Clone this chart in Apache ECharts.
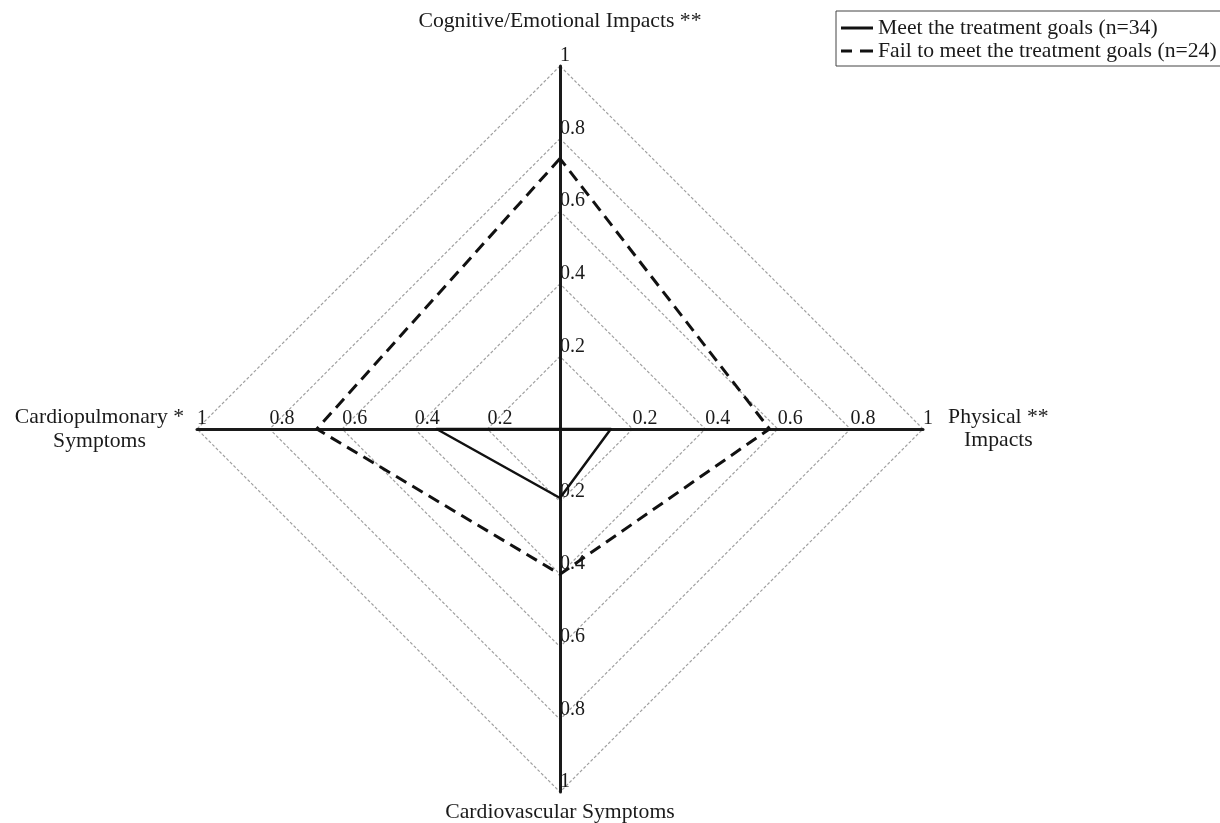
<!DOCTYPE html>
<html><head><meta charset="utf-8">
<script src="https://cdn.jsdelivr.net/npm/echarts@6/dist/echarts.min.js"></script>
<style>html,body{margin:0;padding:0;background:#fff}#c{width:1220px;height:823px}</style>
</head><body><div id="c"></div>
<script>
// Indicators in ECharts radar order (start at top, counter-clockwise)
const indicatorNames = ['Cognitive/Emotional Impacts **', 'Cardiopulmonary *\nSymptoms', 'Cardiovascular Symptoms', 'Physical **\nImpacts'];
const seriesNames = ['Meet the treatment goals (n=34)', 'Fail to meet the treatment goals (n=24)'];
const meetGoals = [0, 0.34, 0.19, 0.14];
const failGoals = [0.745, 0.67, 0.40, 0.577];
const axisMax = 1;

const FONT = 'Liberation Serif';
const nameKeys = ['top', 'left', 'bottom', 'right'];

const chart = echarts.init(document.getElementById('c'));
chart.setOption({
  backgroundColor: '#fff',
  animation: false,
  legend: {
    orient: 'vertical', left: 836, top: 11,
    padding: [6, 4, 4, 5], itemGap: 1,
    itemWidth: 32, itemHeight: 3,
    borderColor: '#444', borderWidth: 1,
    textStyle: { fontFamily: FONT, fontSize: 21.7, color: '#1a1a1a' },
    data: [
      { name: seriesNames[0], icon: 'path://M0,0h32v3h-32z', itemStyle: { color: '#111', borderWidth: 0 } },
      { name: seriesNames[1], icon: 'path://M0,0h11v3h-11z M19,0h13v3h-13z', itemStyle: { color: '#111', borderWidth: 0 } }
    ]
  },
  radar: {
    center: [560, 429], radius: 363, startAngle: 90,
    shape: 'polygon', splitNumber: 5,
    indicator: indicatorNames.map(n => ({ name: n, min: 0, max: axisMax })),
    nameGap: 8,
    axisName: {
      color: '#1a1a1a', fontFamily: FONT, fontSize: 21.7,
      formatter: function (name) {
        const key = nameKeys[indicatorNames.indexOf(name)] || 'bottom';
        return name.split('\n').map(l => '{' + key + '|' + l + '}').join('\n');
      },
      rich: {
        top: { fontFamily: FONT, fontSize: 21.7, color: '#1a1a1a', lineHeight: 74 },
        bottom: { fontFamily: FONT, fontSize: 21.7, color: '#1a1a1a', lineHeight: 24 },
        left: { fontFamily: FONT, fontSize: 21.7, color: '#1a1a1a', lineHeight: 24, width: 179, align: 'center' },
        right: { fontFamily: FONT, fontSize: 21.7, color: '#1a1a1a', lineHeight: 23, width: 123, align: 'center' }
      }
    },
    axisLine: { lineStyle: { color: '#1a1a1a', width: 3 } },
    splitLine: { lineStyle: { color: '#a0a0a0', width: 1.2, type: [3, 2] } },
    splitArea: { show: false },
    axisTick: { show: false },
    axisLabel: {
      show: true, margin: 0, align: 'left', verticalAlign: 'bottom',
      fontFamily: FONT, fontSize: 20, color: '#1a1a1a',
      formatter: function (v) { return v === 0 ? '' : String(Number(v.toFixed(1))); }
    }
  },
  series: [{
    type: 'radar',
    symbol: 'none',
    data: [
      { name: seriesNames[0], value: meetGoals, lineStyle: { color: '#111', width: 2.5, type: 'solid' }, itemStyle: { color: '#111' } },
      { name: seriesNames[1], value: failGoals, lineStyle: { color: '#111', width: 3, type: [12, 7] }, itemStyle: { color: '#111' } }
    ]
  }]
});
</script></body></html>
